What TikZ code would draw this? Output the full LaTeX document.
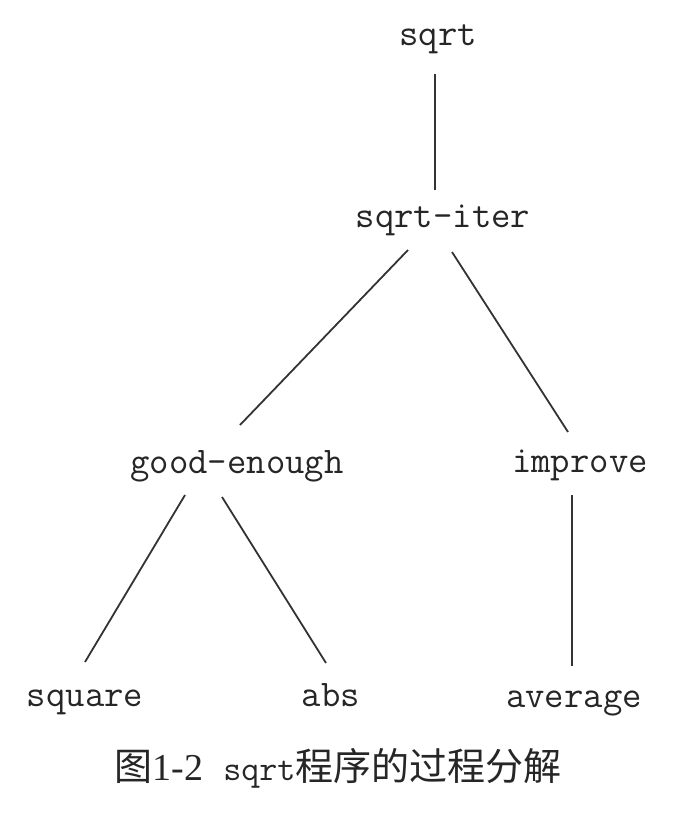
\documentclass[tikz,border=0pt]{standalone}
\usepackage{fontspec}
\newfontfamily\cjk{Noto Sans CJK SC}
\newfontfamily\serifdigits{Liberation Serif}
\usetikzlibrary{calc}

\begin{document}
\begin{tikzpicture}[
  x=0.5pt, y=-0.5pt,
  proc/.style={inner sep=0pt, anchor=base, text=black!85,
    font=\ttfamily\fontsize{18.8}{21}\selectfont},
  link/.style={draw=black!80, line width=0.9pt}
]
  \useasboundingbox (0,0) rectangle (673,813);

  % procedures
  \node[proc] (sqrt)    at (438,46)  {sqrt};
  \node[proc] (iter)    at (443,227) {sqrt-iter};
  \node[proc] (good)    at (237,473) {good-enough};
  \node[proc] (improve) at (580,472) {improve};
  \node[proc] (square)  at (85,706)  {square};
  \node[proc] (abs)     at (331,706) {abs};
  \node[proc] (average) at (574,707) {average};

  % decomposition
  \path[link] ($(sqrt.base)+(-3,28)$)     edge ($(iter.base)+(-8,-37)$)
              ($(iter.base)+(-35,23)$)    edge ($(good.base)+(3,-48)$)
              ($(iter.base)+(9,25)$)      edge ($(improve.base)+(-12,-40)$)
              ($(good.base)+(-52,22)$)    edge ($(square.base)+(0,-44)$)
              ($(good.base)+(-15,24)$)    edge ($(abs.base)+(-5,-43)$)
              ($(improve.base)+(-8,23)$)  edge ($(average.base)+(-2,-41)$);

  % caption
  \node[inner sep=0pt, anchor=base, text=black!85] (caption) at (338,780)
    {{\cjk\fontsize{19}{21}\selectfont 图}{\serifdigits\fontsize{19}{21}\selectfont 1-2}\hspace{10pt}{\ttfamily\fontsize{17.5}{19}\selectfont sqrt}{\cjk\fontsize{19}{21}\selectfont 程序的过程分解}};
\end{tikzpicture}
\end{document}
